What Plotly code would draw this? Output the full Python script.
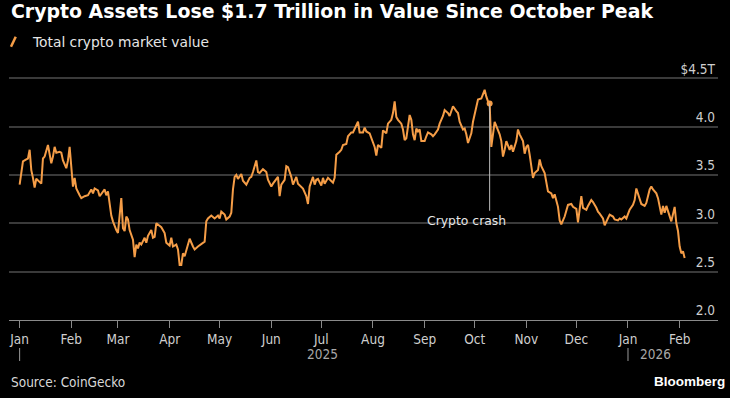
import pandas as pd
import plotly.graph_objects as go

# ---- data ----
start_date = "2025-01-01"
day_offsets = [
    0, 2, 4, 5, 6, 7, 8, 9, 10, 12, 13, 14, 15, 17, 18, 19, 20, 21, 22, 24, 25, 26, 28, 29, 30,
    31, 32, 33, 34, 36, 37, 39, 41, 43, 44, 45, 47, 48, 50, 51, 52, 53, 55, 56, 58, 59, 61, 62,
    63, 64, 65, 66, 68, 69, 70, 71, 72, 73, 75, 76, 77, 79, 80, 81, 82, 84, 85, 87, 88, 90, 91,
    92, 94, 95, 96, 97, 98, 99, 102, 104, 105, 107, 109, 111, 112, 113, 115, 117, 119, 120, 121,
    123, 124, 126, 127, 128, 129, 130, 131, 133, 134, 136, 138, 139, 140, 142, 143, 144, 146,
    148, 149, 151, 152, 154, 155, 156, 157, 159, 160, 161, 163, 164, 166, 167, 169, 170, 172,
    173, 174, 176, 177, 178, 179, 181, 182, 183, 185, 186, 188, 189, 190, 192, 193, 194, 196,
    197, 199, 200, 201, 203, 204, 206, 207, 208, 210, 211, 213, 214, 215, 217, 218, 220, 221,
    223, 224, 225, 226, 227, 229, 230, 231, 232, 234, 235, 236, 237, 238, 239, 240, 241, 243,
    244, 245, 247, 248, 249, 251, 252, 254, 255, 257, 258, 259, 260, 262, 263, 264, 265, 266,
    267, 268, 269, 270, 271, 272, 273, 274, 275, 277, 278, 279, 280, 281, 282, 283, 285, 287,
    288, 289, 290, 291, 292, 294, 295, 296, 298, 299, 300, 302, 303, 304, 305, 306, 308, 309,
    311, 312, 313, 315, 317, 319, 320, 321, 323, 324, 325, 327, 328, 329, 331, 332, 334, 335,
    337, 338, 340, 341, 343, 344, 346, 347, 348, 350, 351, 353, 354, 356, 357, 359, 360, 361,
    363, 364, 366, 368, 369, 370, 372, 373, 375, 376, 378, 379, 380, 382, 383, 384, 385, 386,
    387, 388, 390, 391, 393, 394, 395, 396, 397, 398, 399,
]
market_value_tn = [
    3.40, 3.64, 3.66, 3.67, 3.76, 3.55, 3.47, 3.37, 3.46, 3.43, 3.41, 3.67, 3.69, 3.81, 3.72,
    3.62, 3.69, 3.79, 3.73, 3.74, 3.73, 3.65, 3.57, 3.65, 3.79,
    3.59, 3.38, 3.47, 3.36, 3.29, 3.26, 3.28, 3.29, 3.35, 3.31, 3.36, 3.34, 3.28, 3.32, 3.35,
    3.29, 3.33, 3.08, 3.02, 2.93, 2.90, 3.26, 2.95,
    2.92, 3.07, 3.04, 2.93, 2.83, 2.65, 2.78, 2.74, 2.80, 2.78, 2.85, 2.80, 2.87, 2.93, 2.85,
    2.86, 3.00, 2.97, 2.96, 2.90, 2.80, 2.77, 2.85,
    2.76, 2.78, 2.73, 2.57, 2.57, 2.69, 2.66, 2.84, 2.76, 2.73, 2.76, 2.79, 2.81, 3.02, 3.05,
    3.08, 3.05, 3.08, 3.05, 3.12,
    3.09, 3.04, 3.07, 3.11, 3.35, 3.48, 3.50, 3.46, 3.51, 3.44, 3.40, 3.47, 3.48, 3.53, 3.65,
    3.53, 3.52, 3.56,
    3.53, 3.45, 3.38, 3.41, 3.46, 3.48, 3.28, 3.40, 3.45, 3.59, 3.58, 3.48, 3.40, 3.48, 3.41,
    3.38, 3.36, 3.28,
    3.20, 3.38, 3.48, 3.40, 3.45, 3.46, 3.39, 3.47, 3.41, 3.47, 3.45, 3.42, 3.47, 3.71, 3.74,
    3.76, 3.81, 3.82,
    3.90, 3.94, 3.94, 3.98, 4.05, 3.94, 3.94, 3.99, 3.95, 3.93, 3.88, 3.79, 3.70, 3.81, 3.78,
    3.96, 3.93, 4.03,
    4.07, 4.14, 4.26, 4.10, 4.07, 4.03, 3.97, 3.86, 3.88, 4.12, 4.07, 3.92, 3.86, 3.98, 3.95,
    3.97, 3.85, 3.85,
    3.90, 3.94, 3.92, 3.90, 3.92, 3.97, 4.03, 4.11, 4.17, 4.14, 4.11, 4.16, 4.21, 4.16, 4.14,
    4.05, 4.01, 3.97,
    3.98, 3.92, 3.83, 3.88, 3.93, 4.05, 4.14, 4.21, 4.28, 4.29, 4.33, 4.38, 4.31, 4.26, 4.24,
    3.79, 4.05, 3.97,
    3.92, 3.85, 3.69, 3.76, 3.85, 3.76, 3.81, 3.74, 3.85, 3.97, 3.92, 3.85, 3.72, 3.79, 3.81,
    3.71, 3.47, 3.52,
    3.55, 3.66, 3.59, 3.52, 3.33, 3.31, 3.26, 3.30, 3.17, 3.03, 2.99, 3.07, 3.12, 3.19, 3.20,
    3.17, 3.15, 3.01,
    3.28, 3.16, 3.14, 3.18, 3.24, 3.22, 3.16, 3.12, 3.10, 3.05, 2.98, 3.05, 3.09, 3.07, 3.04,
    3.03, 3.05, 3.04,
    3.07, 3.05, 3.14, 3.19, 3.24, 3.36, 3.24, 3.20, 3.18, 3.21, 3.35, 3.38, 3.35, 3.31, 3.26,
    3.18, 3.09, 3.18,
    3.11, 3.18, 3.07, 3.02, 3.17, 3.00, 2.92, 2.76, 2.69, 2.71, 2.64,
]

event_date = "2025-10-10"
event_value = 4.24
event_label = "Crypto crash"

month_ticks = ["2025-01-01", "2025-02-01", "2025-03-01", "2025-04-01", "2025-05-01",
               "2025-06-01", "2025-07-01", "2025-08-01", "2025-09-01", "2025-10-01",
               "2025-11-01", "2025-12-01", "2026-01-01", "2026-02-01"]
month_labels = ["Jan", "Feb", "Mar", "Apr", "May", "Jun", "Jul", "Aug", "Sep", "Oct",
                "Nov", "Dec", "Jan", "Feb"]
y_ticks = [2.0, 2.5, 3.0, 3.5, 4.0, 4.5]
y_labels = ["2.0", "2.5", "3.0", "3.5", "4.0", "$4.5T"]

title_text = "Crypto Assets Lose $1.7 Trillion in Value Since October Peak"
legend_text = "Total crypto market value"
source_text = "Source: CoinGecko"

dates = pd.Timestamp(start_date) + pd.to_timedelta(day_offsets, unit="D")

ORANGE = "#f59d47"
GRID = "#3a3a3a"
LABEL = "#cfcfcf"
NARROW = "Liberation Sans Narrow, Arial Narrow, DejaVu Sans Condensed, sans-serif"
SANS = "DejaVu Sans, Verdana, sans-serif"

fig = go.Figure()
fig.add_trace(go.Scatter(x=dates, y=market_value_tn, mode="lines",
                         line=dict(color=ORANGE, width=2), showlegend=False,
                         hoverinfo="skip"))
fig.add_trace(go.Scatter(x=[event_date], y=[event_value], mode="markers",
                         marker=dict(color=ORANGE, size=6), showlegend=False,
                         hoverinfo="skip"))

fig.update_layout(
    width=730, height=398,
    margin=dict(l=9, r=12, t=56, b=78, autoexpand=False),
    paper_bgcolor="#000000", plot_bgcolor="#000000",
    showlegend=False,
    xaxis=dict(
        range=["2024-12-25 15:00", "2026-02-24"],
        tickmode="array", tickvals=month_ticks, ticktext=month_labels,
        ticks="outside", ticklen=7, tickwidth=1, tickcolor="#8a8a8a",
        showgrid=False, zeroline=False,
        showline=True, linecolor="#8a8a8a", linewidth=1,
        tickfont=dict(family=NARROW, size=13.5, color=LABEL),
    ),
    yaxis=dict(
        range=[2.0, 4.73], side="right",
        tickmode="array", tickvals=y_ticks, ticktext=y_labels,
        ticklabelposition="inside top", ticks="",
        showgrid=True, gridcolor=GRID, gridwidth=1.5,
        zeroline=False, showline=False,
        tickfont=dict(family=NARROW, size=13.5, color=LABEL),
    ),
)

# event annotation line + label
fig.add_shape(type="line", xref="x", yref="y", x0=event_date, x1=event_date,
              y0=3.13, y1=event_value, line=dict(color="#bdbdbd", width=1))
fig.add_annotation(x=event_date, y=3.13, xref="x", yref="y", text=event_label,
                   showarrow=False, xanchor="center", yanchor="top", xshift=-23,
                   font=dict(family=SANS, size=12.4, color="#e6e6e6"))

# title and legend
fig.add_annotation(x=0, y=1.1705, xref="paper", yref="paper", text="<b>" + title_text + "</b>",
                   showarrow=False, xanchor="left", yanchor="middle",
                   font=dict(family=SANS, size=18.9, color="#ffffff"))
fig.add_shape(type="line", xref="paper", yref="paper", x0=0.0028, y0=1.0352, x1=0.0095, y1=1.0731,
              line=dict(color=ORANGE, width=2.5))
fig.add_annotation(x=0.0296, y=1.053, xref="paper", yref="paper", text=legend_text,
                   showarrow=False, xanchor="left", yanchor="middle",
                   font=dict(family=SANS, size=13.8, color="#e6e6e6"))

# year row
for d in ["2025-01-01", "2026-01-01"]:
    fig.add_shape(type="line", xref="x", yref="paper", x0=d, x1=d, y0=-0.106, y1=-0.1553,
                  line=dict(color="#9a9a9a", width=1))
fig.add_annotation(x="2025-07-02", y=-0.1269, xref="x", yref="paper", text="2025",
                   showarrow=False, xanchor="center", yanchor="middle",
                   font=dict(family=NARROW, size=13.5, color="#a8a8a8"))
fig.add_annotation(x="2026-01-01", y=-0.1269, xref="x", yref="paper", text="2026",
                   showarrow=False, xanchor="left", yanchor="middle", xshift=10,
                   font=dict(family=NARROW, size=13.5, color="#a8a8a8"))

# footer
fig.add_annotation(x=0, y=-0.2348, xref="paper", yref="paper", text=source_text,
                   showarrow=False, xanchor="left", yanchor="middle",
                   font=dict(family=NARROW, size=13.5, color="#d8d8d8"))
fig.add_annotation(x=1.0127, y=-0.2348, xref="paper", yref="paper", text="<b>Bloomberg</b>",
                   showarrow=False, xanchor="right", yanchor="middle",
                   font=dict(family="Liberation Sans, Arial, sans-serif", size=13.5, color="#ffffff"))

fig.write_html("out.html",
               config={"displayModeBar": False},
               post_script="document.body.style.margin='0';document.body.style.background='#000';")
